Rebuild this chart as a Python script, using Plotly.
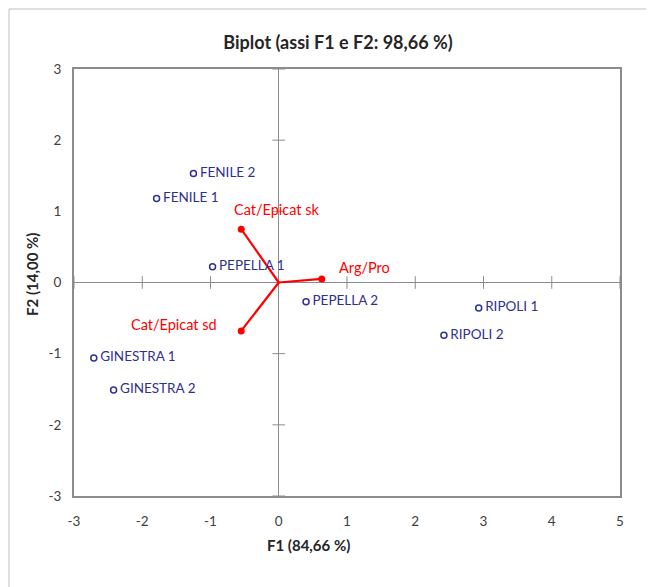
import plotly.graph_objects as go

# Observations
obs_names = ["FENILE 2", "FENILE 1", "PEPELLA 1", "PEPELLA 2", "RIPOLI 1", "RIPOLI 2", "GINESTRA 1", "GINESTRA 2"]
obs_f1 = [-1.25, -1.79, -0.97, 0.40, 2.93, 2.42, -2.71, -2.42]
obs_f2 = [1.53, 1.18, 0.22, -0.27, -0.36, -0.74, -1.06, -1.51]

# Variables (vectors)
var_names = ["Cat/Epicat sk", "Cat/Epicat sd", "Arg/Pro"]
var_f1 = [-0.55, -0.55, 0.63]
var_f2 = [0.75, -0.68, 0.05]

x_ticks = [-3, -2, -1, 0, 1, 2, 3, 4, 5]
x_tick_labels = ["-3", "-2", "-1", "0", "1", "2", "3", "4", "5"]
y_ticks = [-3, -2, -1, 0, 1, 2, 3]
y_tick_labels = ["-3", "-2", "-1", "0", "1", "2", "3"]

title_text = "Biplot (assi F1 e F2: 98,66 %)"
x_title = "F1 (84,66 %)"
y_title = "F2 (14,00 %)"

FONT = "Lato"
BLUE = "#2E3192"
RED = "#FF0000"
GRAY = "#8C8C8C"

fig = go.Figure()

# tick marks crossing the zero axes
fig.add_trace(go.Scatter(
    x=[t for t in x_ticks if t != 0], y=[0] * (len(x_ticks) - 1),
    mode="markers", marker=dict(symbol="line-ns", size=9, line=dict(color=GRAY, width=1)),
    hoverinfo="skip", showlegend=False))
fig.add_trace(go.Scatter(
    x=[0] * (len(y_ticks) - 1), y=[t for t in y_ticks if t != 0],
    mode="markers", marker=dict(symbol="line-ew", size=9, line=dict(color=GRAY, width=1)),
    hoverinfo="skip", showlegend=False))

# vectors
for name, vx, vy in zip(var_names, var_f1, var_f2):
    fig.add_trace(go.Scatter(
        x=[0, vx], y=[0, vy], mode="lines", line=dict(color=RED, width=2.2),
        hoverinfo="skip", showlegend=False))
fig.add_trace(go.Scatter(
    x=var_f1, y=var_f2, mode="markers", marker=dict(color=RED, size=7),
    showlegend=False))

# observations
fig.add_trace(go.Scatter(
    x=obs_f1, y=obs_f2, mode="markers+text", text=["\u2009" + n for n in obs_names],
    textposition="middle right",
    textfont=dict(family=FONT, size=13.5, color=BLUE),
    marker=dict(symbol="circle-open", size=6, color=BLUE, line=dict(width=1.5, color=BLUE)),
    showlegend=False))

# variable labels
label_offsets = {
    "Cat/Epicat sk": dict(xanchor="left", xshift=-9, yshift=20),
    "Cat/Epicat sd": dict(xanchor="right", xshift=-22, yshift=6),
    "Arg/Pro": dict(xanchor="left", xshift=15, yshift=11),
}
for name, vx, vy in zip(var_names, var_f1, var_f2):
    o = label_offsets[name]
    fig.add_annotation(x=vx, y=vy, text=name, showarrow=False,
                       xanchor=o["xanchor"], yanchor="middle",
                       xshift=o["xshift"], yshift=o["yshift"],
                       font=dict(family=FONT, size=14.5, color=RED))

# axis titles
fig.add_annotation(xref="paper", yref="paper", x=0.4286, y=-0.115, text="<b>" + x_title + "</b>",
                   showarrow=False, xanchor="center", yanchor="middle",
                   font=dict(family=FONT, size=15, color="#262626"))
fig.add_annotation(xref="paper", yref="paper", x=-0.077, y=0.52, text="<b>" + y_title + "</b>",
                   showarrow=False, textangle=-90, xanchor="center", yanchor="middle",
                   font=dict(family=FONT, size=15, color="#262626"))

# outer chart border (top and left visible)
fig.add_shape(type="line", xref="paper", yref="paper", x0=-0.119, x1=1.1, y0=1.1405, y1=1.1405,
              line=dict(color="#BFBFBF", width=1))
fig.add_shape(type="line", xref="paper", yref="paper", x0=-0.119, x1=-0.119, y0=1.1405, y1=-0.25,
              line=dict(color="#BFBFBF", width=1))

axis_common = dict(
    showgrid=False, zeroline=True, zerolinecolor=GRAY, zerolinewidth=1,
    showline=True, linecolor=GRAY, linewidth=2, mirror=True,
    ticks="", tickfont=dict(family=FONT, size=13.5, color="#404040"),
)
fig.update_xaxes(range=[-3, 5], tickvals=x_ticks, ticktext=x_tick_labels, ticklabelstandoff=12, **axis_common)
fig.update_yaxes(range=[-3, 3], tickvals=y_ticks, ticktext=y_tick_labels, ticklabelstandoff=8, **axis_common)

fig.update_layout(
    width=654, height=587,
    margin=dict(l=66, r=42, t=61, b=99, autoexpand=False),
    paper_bgcolor="white", plot_bgcolor="white",
    title=dict(text="<b>" + title_text + "</b>", x=(338 - 8) / 654, xanchor="center",
               y=1 - (43 - 8) / 587, yanchor="middle", xref="container", yref="container",
               font=dict(family=FONT, size=18, color="#262626")),
    font=dict(family=FONT),
)

fig.write_html("out.html")
